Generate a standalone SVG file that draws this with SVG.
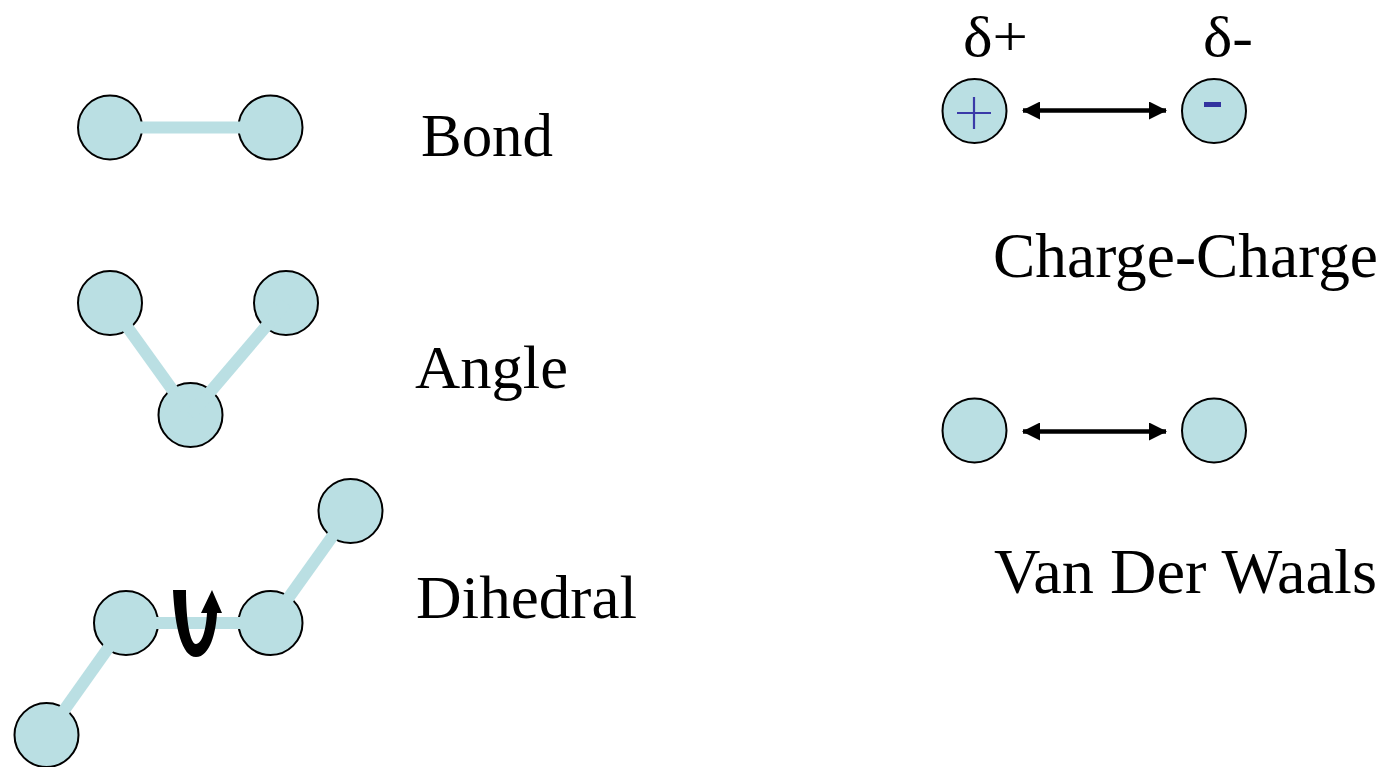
<svg xmlns="http://www.w3.org/2000/svg" width="1389" height="767" viewBox="0 0 1389 767">
<style>
.atom{fill:#badfe3;stroke:#000;stroke-width:2}
.bond{stroke:#badfe3;stroke-width:12;fill:none}
.lbl{font-family:"Liberation Serif","Times New Roman",serif;font-size:62px;fill:#000}
.big{font-size:64px}
.dl{font-family:"Liberation Serif","DejaVu Serif",serif;font-size:58px;fill:#000}
.force{stroke:#000;stroke-width:4.5;fill:none;marker-start:url(#ah);marker-end:url(#ah)}
</style>
<defs>
<marker id="ah" viewBox="0 0 18 18" refX="17" refY="9" markerWidth="18" markerHeight="18" markerUnits="userSpaceOnUse" orient="auto-start-reverse">
<path d="M0,0 L18,9 L0,18 Z" fill="#000"/>
</marker>
</defs>
<rect width="1389" height="767" fill="#fff"/>

<g id="bond-atom-1"><circle class="atom" cx="110" cy="127.5" r="32"/></g>
<g id="bond-atom-2"><circle class="atom" cx="270.5" cy="127.5" r="32"/></g>

<g id="angle-atom-1"><circle class="atom" cx="110" cy="303" r="32"/></g>
<g id="angle-atom-2"><circle class="atom" cx="286" cy="303" r="32"/></g>
<g id="angle-atom-3"><circle class="atom" cx="190.5" cy="415" r="32"/></g>

<g id="dihedral-atom-1"><circle class="atom" cx="46.5" cy="735" r="32"/></g>
<g id="dihedral-atom-2"><circle class="atom" cx="126" cy="623" r="32"/></g>
<g id="dihedral-atom-3"><circle class="atom" cx="270.5" cy="623" r="32"/></g>
<g id="dihedral-atom-4"><circle class="atom" cx="350.5" cy="511" r="32"/></g>

<g id="charge-plus"><circle class="atom" cx="974.5" cy="111" r="32"/>
<path d="M957,113 H991 M974,97 V129" stroke="#3a3aa8" stroke-width="2.2" fill="none"/></g>
<g id="charge-minus"><circle class="atom" cx="1214" cy="111" r="32"/>
<rect x="1204" y="102" width="17" height="5" fill="#33339f"/></g>

<g id="vdw-atom-1"><circle class="atom" cx="974.5" cy="430.5" r="32"/></g>
<g id="vdw-atom-2"><circle class="atom" cx="1214" cy="430.5" r="32"/></g>

<g id="connectors">
<line class="bond" x1="110" y1="127.5" x2="270.5" y2="127.5"/>
<line class="bond" x1="110" y1="303" x2="190.5" y2="415"/>
<line class="bond" x1="286" y1="303" x2="190.5" y2="415"/>
<line class="bond" x1="46.5" y1="735" x2="126" y2="623"/>
<line class="bond" x1="126" y1="623" x2="270.5" y2="623"/>
<line class="bond" x1="270.5" y1="623" x2="350.5" y2="511"/>
<line class="force" x1="1023" y1="110.5" x2="1166" y2="110.5"/>
<line class="force" x1="1023" y1="431.5" x2="1166" y2="431.5"/>
</g>

<g id="rotation-arrow">
<path d="M173,590 L186,590 C186,620 190,644 196,644 C202,644 206,630 207,613 L201,613 L212,590 L222,613 L217,613 C216,632 210,657 196,657 C182,657 175,628 173,590 Z" fill="#000"/>
</g>

<g id="labels">
<text class="lbl" x="421" y="156" textLength="132" lengthAdjust="spacingAndGlyphs">Bond</text>
<text class="lbl" x="415" y="388" textLength="153" lengthAdjust="spacingAndGlyphs">Angle</text>
<text class="lbl" x="416" y="618" textLength="221" lengthAdjust="spacingAndGlyphs">Dihedral</text>
<text class="lbl big" x="993" y="277" textLength="385" lengthAdjust="spacingAndGlyphs">Charge-Charge</text>
<text class="lbl big" x="994" y="593" textLength="383" lengthAdjust="spacingAndGlyphs">Van Der Waals</text>
<text class="dl" x="963" y="56" textLength="65" lengthAdjust="spacingAndGlyphs">δ+</text>
<text class="dl" x="1203" y="56" textLength="50" lengthAdjust="spacingAndGlyphs">δ-</text>
</g>
</svg>
